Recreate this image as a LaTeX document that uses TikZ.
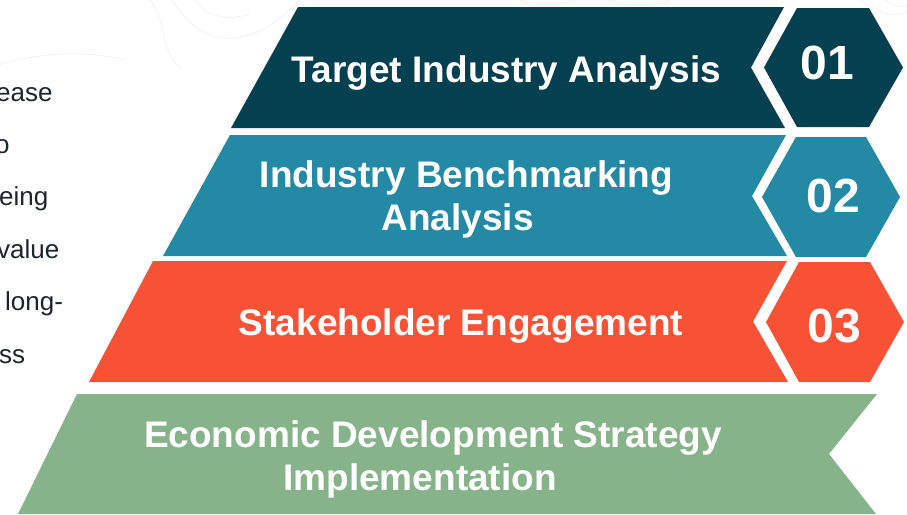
\documentclass[tikz,border=0pt]{standalone}
\usepackage{fontspec}
\setmainfont{Liberation Sans}

\definecolor{bandA}{HTML}{04404F}
\definecolor{bandB}{HTML}{2389A5}
\definecolor{bandC}{HTML}{F75236}
\definecolor{bandD}{HTML}{86B38A}
\definecolor{contour}{HTML}{F0F4F1}
\definecolor{bodytext}{HTML}{1E2528}

\tikzset{
  bandtitle/.style={text=white, font=\bfseries\fontsize{37}{43}\selectfont, align=center, inner sep=0pt},
  badgenum/.style={text=white, font=\bfseries\fontsize{48}{48}\selectfont, inner sep=0pt, anchor=base},
  sidetext/.style={text=bodytext, font=\fontsize{26}{26}\selectfont, inner sep=0pt, anchor=base west},
  contourline/.style={draw=contour, line width=0.9pt},
}

\begin{document}
\begin{tikzpicture}[x=1pt, y=-1pt]
  \useasboundingbox (0,0) rectangle (907,514);
  \clip (0,0) rectangle (907,514);
  \fill[white] (0,0) rectangle (907,514);

  % faint topographic lines in the background
  \draw[contourline] (-5,66) .. controls (40,52) and (85,50) .. (125,60);
  \draw[contourline] (150,0) .. controls (168,22) and (158,48) .. (182,70);
  \draw[contourline] (172,0) .. controls (188,25) and (210,45) .. (245,36) .. controls (270,30) and (285,14) .. (300,0);
  \draw[contourline] (195,0) .. controls (205,15) and (225,22) .. (250,14);
  \draw[contourline] (520,0) .. controls (535,4) and (555,6) .. (575,0);
  \draw[contourline] (610,0) .. controls (630,8) and (650,6) .. (670,0);
  \draw[contourline] (860,0) .. controls (880,14) and (895,18) .. (907,12);
  \draw[contourline] (885,0) .. controls (893,6) and (900,8) .. (907,5);

  % side text, running in from the left edge
  \node[sidetext] (s1) at (-4,101) {ease};
  \node[sidetext] (s2) at (-5,153) {o};
  \node[sidetext] (s3) at (-1,205) {eing};
  \node[sidetext] (s4) at (-3,258) {value};
  \node[sidetext] (s5) at (5,310) {long-};
  \node[sidetext] (s6) at (-1,363) {ss};

  % row 1
  \fill[bandA] (298,7) -- (784,7) -- (751,67.5) -- (785,128) -- (231,128) -- cycle;
  \fill[bandA] (797,8) -- (869,8) -- (903,67.5) -- (869,127) -- (797,127) -- (764,67.5) -- cycle;
  % row 2
  \fill[bandB] (230,135) -- (786,135) -- (752,196) -- (787,256) -- (163,256) -- cycle;
  \fill[bandB] (796,137) -- (866,137) -- (900,197) -- (866,257) -- (796,257) -- (762,197) -- cycle;
  % row 3
  \fill[bandC] (153,261) -- (787,261) -- (753,321.5) -- (788,382) -- (89,382) -- cycle;
  \fill[bandC] (799,262) -- (870,262) -- (904,322) -- (870,382) -- (799,382) -- (766,322) -- cycle;
  % row 4
  \fill[bandD] (77,394) -- (877,394) -- (829,454) -- (876,514) -- (18,514) -- cycle;

  % titles
  \node[bandtitle, anchor=base] (t1) at (506.5,82) {Target Industry Analysis};
  \node[bandtitle] (t2) at (466.5,199) {Industry Benchmarking\\Analysis\hspace*{18pt}};
  \node[bandtitle, anchor=base] (t3) at (461,335) {Stakeholder Engagement};
  \node[bandtitle] (t4) at (433,459) {Economic Development Strategy\\Implementation\hspace*{26pt}};

  % step numbers
  \node[badgenum] (n1) at (827,79) {01};
  \node[badgenum] (n2) at (833,212) {02};
  \node[badgenum] (n3) at (834,342) {03};
\end{tikzpicture}
\end{document}
